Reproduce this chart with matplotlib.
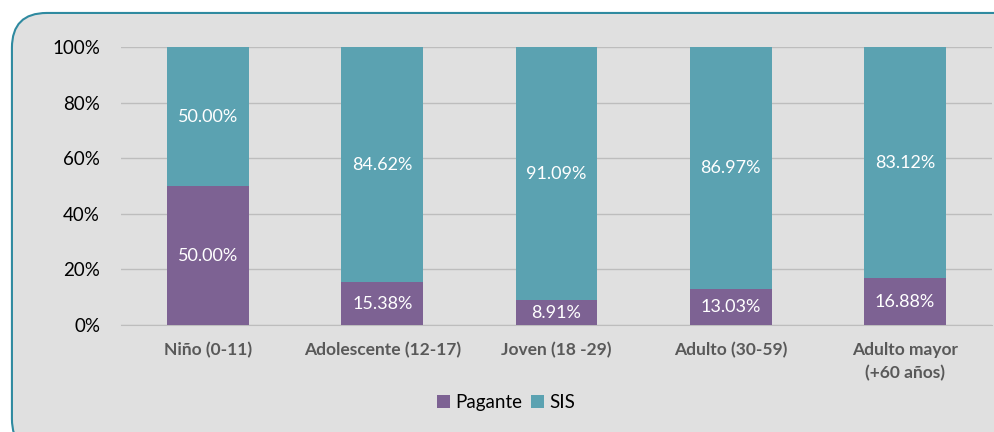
import matplotlib.pyplot as plt
from matplotlib.patches import FancyBboxPatch
import numpy as np

categorias = ['Niño (0-11)', 'Adolescente (12-17)', 'Joven (18 -29)',
              'Adulto (30-59)', 'Adulto mayor\n(+60 años)']
pagante = [50.00, 15.38, 8.91, 13.03, 16.88]
sis = [50.00, 84.62, 91.09, 86.97, 83.12]

col_pag = '#7D6293'
col_sis = '#5BA2B1'

plt.rcParams['font.family'] = ['Lato', 'DejaVu Sans']

fig = plt.figure(figsize=(9.94, 4.32), dpi=100)
fig.patch.set_facecolor('white')

# rounded frame (runs off the right/bottom edge like the original)
frame = FancyBboxPatch((0.012, -0.05), 1.05, 1.02, transform=fig.transFigure,
                       boxstyle='round,pad=0,rounding_size=0.035',
                       facecolor='#E0E0E0', edgecolor='#2F8AA0', linewidth=1.5,
                       mutation_aspect=994 / 432, zorder=-1)
fig.add_artist(frame)

ax = fig.add_axes([0.1217, 0.2477, 0.8763, 0.6433])
ax.set_facecolor('none')
ax.set_zorder(2)

x = np.arange(len(categorias))
w = 0.47
b1 = ax.bar(x, pagante, w, color=col_pag, label='Pagante', zorder=3)
b2 = ax.bar(x, sis, w, bottom=pagante, color=col_sis, label='SIS', zorder=3)

for i in range(len(x)):
    ax.text(x[i], pagante[i] / 2, f'{pagante[i]:.2f}%', ha='center', va='center',
            color='white', fontsize=13, zorder=4)
    ax.text(x[i], pagante[i] + sis[i] / 2, f'{sis[i]:.2f}%', ha='center', va='center',
            color='white', fontsize=13, zorder=4)

ax.set_xlim(-0.5, len(x) - 0.5)
ax.set_ylim(0, 100)
ax.set_yticks(np.arange(0, 101, 20))
ax.set_yticklabels([f'{v}%' for v in range(0, 101, 20)], fontsize=13.5, color='black')
ax.set_xticks(x)
ax.set_xticklabels(categorias, fontsize=12.5, fontweight='bold', color='#595959',
                   linespacing=1.55)
ax.tick_params(axis='both', length=0)
ax.tick_params(axis='x', pad=12)
ax.tick_params(axis='y', pad=15)
ax.grid(axis='y', color='#BDBDBD', linewidth=1, zorder=0)
ax.set_axisbelow(True)
for s in ['top', 'right', 'left']:
    ax.spines[s].set_visible(False)
ax.spines['bottom'].set_color('#BDBDBD')

fig.legend(handles=[b1, b2], loc='center', bbox_to_anchor=(0.509, 0.069), ncol=2,
           frameon=False, fontsize=13.5, handlelength=0.7, handleheight=0.7,
           handletextpad=0.25, columnspacing=0.5)

fig.savefig('out.png', dpi=100)
